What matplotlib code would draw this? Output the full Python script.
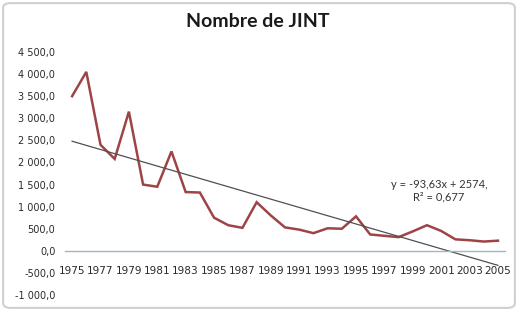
import matplotlib
matplotlib.use("Agg")
import matplotlib.pyplot as plt
import numpy as np
from matplotlib.patches import FancyBboxPatch

years = list(range(1975, 2006))
jint = [3500, 4050, 2400, 2080, 3150, 1500, 1450, 2250, 1330, 1320,
        750, 580, 520, 1100, 800, 530, 480, 400, 510, 500,
        780, 370, 340, 310, 440, 580, 450, 260, 240, 210, 230]
trend_slope = -93.63
trend_intercept = 2574
y_ticks = [-1000, -500, 0, 500, 1000, 1500, 2000, 2500, 3000, 3500, 4000, 4500]
title = "Nombre de JINT"
eq_text = "y = -93,63x + 2574,\nR² = 0,677"

plt.rcParams['font.family'] = ['Lato', 'DejaVu Sans']

fig = plt.figure(figsize=(5.18, 3.11), dpi=100)
fig.patch.set_facecolor('white')
border = FancyBboxPatch((0.006, 0.01), 0.988, 0.98, boxstyle="round,pad=0,rounding_size=0.015",
                        transform=fig.transFigure, facecolor='white', edgecolor='#D0D0D0',
                        linewidth=1.5, zorder=-10)
fig.patches.append(border)

ax = fig.add_axes([0.1255, 0.0514, 0.975 - 0.1255, 0.8328 - 0.0514])
ax.set_facecolor('none')
ax.set_zorder(5)
idx = np.arange(1, len(years) + 1)
ax.plot(idx, jint, color='#9E4447', linewidth=1.8, solid_joinstyle='miter')
trend = trend_slope * idx + trend_intercept
ax.plot(idx, trend, color='#505050', linewidth=0.9)

ax.set_xlim(0.5, len(years) + 0.5)
ax.set_ylim(-1000, 4500)
for s in ['top', 'right', 'left']:
    ax.spines[s].set_visible(False)
ax.spines['bottom'].set_position(('data', 0))
ax.spines['bottom'].set_color('#A8B4C4')
ax.spines['bottom'].set_linewidth(1.0)
ax.tick_params(axis='both', length=0, labelcolor='#2a2a2a')
ax.tick_params(axis='x', pad=10.8, labelsize=7.6, labelfontfamily='DejaVu Sans')
ax.tick_params(axis='y', pad=7, labelsize=7, labelfontfamily='DejaVu Sans')
ax.set_yticks(y_ticks)
ax.set_yticklabels([f"{v:,.1f}".replace(",", " ").replace(".", ",") for v in y_ticks])
ax.set_xticks(idx[::2])
ax.set_xticklabels([str(y) for y in years[::2]])

ax.text(26.85, 1370, eq_text, ha='center', va='center', fontsize=8, color='#333333', linespacing=1.15)
fig.text(0.498, 0.93, title, ha='center', va='center', fontsize=14, fontweight='bold', color='#1a1a1a')

fig.savefig("out.png", dpi=100)
